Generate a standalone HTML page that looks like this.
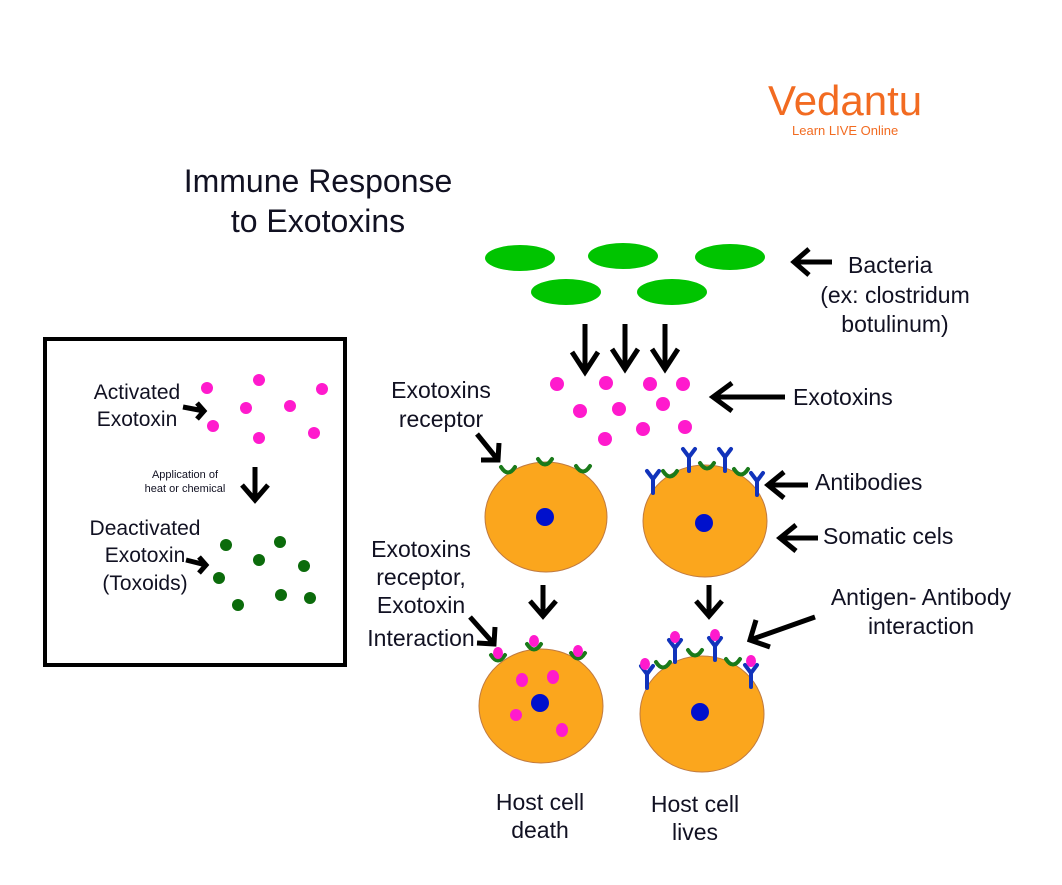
<!DOCTYPE html>
<html><head><meta charset="utf-8"><style>
html,body{margin:0;padding:0;background:#fff;}
svg{display:block;}
text{font-family:"Liberation Sans",sans-serif;fill:#111122;}
</style></head><body>
<svg width="1062" height="885" viewBox="0 0 1062 885" xmlns="http://www.w3.org/2000/svg">
<defs>
<g id="rec"><path d="M-7,-3 Q0,8 7,-3" stroke="#1a7a1a" stroke-width="4" fill="none" stroke-linecap="round"/></g>
<g id="ab"><path d="M0,0 L0,-14 L-6,-22 M0,-14 L6,-22" stroke="#1133bb" stroke-width="4" fill="none" stroke-linecap="round" stroke-linejoin="round"/></g>
</defs>
<!-- logo -->
<text x="768" y="115" font-size="42" style="fill:#f26b21;font-family:'Liberation Sans',sans-serif">Vedantu</text>
<text x="792" y="135" font-size="13" style="fill:#f26b21">Learn LIVE Online</text>
<!-- title -->
<text x="318" y="192" font-size="32" text-anchor="middle">Immune Response</text>
<text x="318" y="232" font-size="32" text-anchor="middle">to Exotoxins</text>
<!-- box -->
<rect x="45" y="339" width="300" height="326" fill="none" stroke="#000" stroke-width="4"/>
<g font-size="21" text-anchor="middle">
<text x="137" y="399">Activated</text><text x="137" y="426">Exotoxin</text>
<text x="145" y="535">Deactivated</text><text x="145" y="562">Exotoxin</text><text x="145" y="590">(Toxoids)</text>
</g>
<text x="185" y="478" font-size="11" text-anchor="middle">Application of</text>
<text x="185" y="492" font-size="11" text-anchor="middle">heat or chemical</text>
<g stroke="#000" stroke-width="5" fill="none">
<path d="M183,407 L204,411 M197,403 L204,411 L197,419"/>
<path d="M186,560 L206,565 M199,557 L206,565 L199,573"/>
<path d="M255,467 L255,500 M242,485 L255,500 L268,485"/>
</g>
<g fill="#ff1acd">
<circle cx="207" cy="388" r="6"/><circle cx="259" cy="380" r="6"/><circle cx="322" cy="389" r="6"/>
<circle cx="246" cy="408" r="6"/><circle cx="290" cy="406" r="6"/><circle cx="213" cy="426" r="6"/>
<circle cx="259" cy="438" r="6"/><circle cx="314" cy="433" r="6"/>
</g>
<g fill="#0b6b0b">
<circle cx="226" cy="545" r="6"/><circle cx="280" cy="542" r="6"/><circle cx="259" cy="560" r="6"/>
<circle cx="304" cy="566" r="6"/><circle cx="219" cy="578" r="6"/><circle cx="281" cy="595" r="6"/>
<circle cx="238" cy="605" r="6"/><circle cx="310" cy="598" r="6"/>
</g>
<!-- bacteria -->
<g fill="#00c400">
<ellipse cx="520" cy="258" rx="35" ry="13"/><ellipse cx="623" cy="256" rx="35" ry="13"/>
<ellipse cx="730" cy="257" rx="35" ry="13"/><ellipse cx="566" cy="292" rx="35" ry="13"/>
<ellipse cx="672" cy="292" rx="35" ry="13"/>
</g>
<!-- arrows -->
<g stroke="#000" stroke-width="5" fill="none">
<path d="M585,324 L585,372 M572,352 L585,372 L598,352"/>
<path d="M625,324 L625,369 M612,349 L625,369 L638,349"/>
<path d="M665,324 L665,369 M652,349 L665,369 L678,349"/>
<path d="M832,262 L794,262 M809,249 L794,262 L809,275"/>
<path d="M785,397 L713,397 M732,383 L713,397 L732,411"/>
<path d="M808,485 L768,485 M784,472 L768,485 L784,498"/>
<path d="M818,538 L780,538 M796,525 L780,538 L796,551"/>
<path d="M815,617 L750,640 M756,620 L750,640 L770,647"/>
<path d="M477,434 L498,460 M499,443 L498,460 L481,460"/>
<path d="M470,617 L494,644 M495,627 L494,644 L477,643"/>
<path d="M543,585 L543,616 M530,601 L543,616 L556,601"/>
<path d="M709,585 L709,616 M696,601 L709,616 L722,601"/>
</g>
<g font-size="23">
<text x="848" y="273">Bacteria</text>
<text x="895" y="303" text-anchor="middle">(ex: clostridum</text>
<text x="895" y="332" text-anchor="middle">botulinum)</text>
<text x="793" y="405">Exotoxins</text>
<text x="815" y="490">Antibodies</text>
<text x="823" y="544">Somatic cels</text>
<text x="921" y="605" text-anchor="middle">Antigen- Antibody</text>
<text x="921" y="634" text-anchor="middle">interaction</text>
<text x="441" y="398" text-anchor="middle">Exotoxins</text>
<text x="441" y="427" text-anchor="middle">receptor</text>
<text x="421" y="557" text-anchor="middle">Exotoxins</text>
<text x="421" y="585" text-anchor="middle">receptor,</text>
<text x="421" y="613" text-anchor="middle">Exotoxin</text>
<text x="421" y="646" text-anchor="middle">Interaction</text>
<text x="540" y="810" text-anchor="middle">Host cell</text>
<text x="540" y="838" text-anchor="middle">death</text>
<text x="695" y="812" text-anchor="middle">Host cell</text>
<text x="695" y="840" text-anchor="middle">lives</text>
</g>
<!-- free exotoxins -->
<g fill="#ff1acd">
<circle cx="557" cy="384" r="7"/><circle cx="606" cy="383" r="7"/><circle cx="650" cy="384" r="7"/>
<circle cx="683" cy="384" r="7"/><circle cx="580" cy="411" r="7"/><circle cx="619" cy="409" r="7"/>
<circle cx="663" cy="404" r="7"/><circle cx="643" cy="429" r="7"/><circle cx="685" cy="427" r="7"/>
<circle cx="605" cy="439" r="7"/>
</g>
<!-- cells -->
<g fill="#fba61d" stroke="#c07a40" stroke-width="1">
<ellipse cx="546" cy="517" rx="61" ry="55"/>
<ellipse cx="705" cy="521" rx="62" ry="56"/>
<ellipse cx="541" cy="706" rx="62" ry="57"/>
<ellipse cx="702" cy="714" rx="62" ry="58"/>
</g>
<g fill="#0010cc">
<circle cx="545" cy="517" r="9"/><circle cx="704" cy="523" r="9"/>
<circle cx="540" cy="703" r="9"/><circle cx="700" cy="712" r="9"/>
</g>
<use href="#rec" x="508" y="470"/><use href="#rec" x="545" y="462"/><use href="#rec" x="583" y="469"/>
<use href="#ab" x="653" y="493"/><use href="#ab" x="689" y="471"/><use href="#ab" x="725" y="471"/><use href="#ab" x="757" y="495"/>
<use href="#rec" x="670" y="474"/><use href="#rec" x="707" y="466"/><use href="#rec" x="741" y="472"/>
<use href="#rec" x="498" y="658"/><use href="#rec" x="534" y="647"/><use href="#rec" x="578" y="656"/>
<g fill="#ff1acd">
<ellipse cx="498" cy="653" rx="5" ry="6"/><ellipse cx="534" cy="641" rx="5" ry="6"/><ellipse cx="578" cy="651" rx="5" ry="6"/>
<ellipse cx="522" cy="680" rx="6" ry="7"/><ellipse cx="553" cy="677" rx="6" ry="7"/>
<ellipse cx="516" cy="715" rx="6" ry="6"/><ellipse cx="562" cy="730" rx="6" ry="7"/>
</g>
<use href="#ab" x="647" y="688"/><use href="#ab" x="675" y="662"/><use href="#ab" x="715" y="660"/><use href="#ab" x="751" y="687"/>
<use href="#rec" x="663" y="665"/><use href="#rec" x="695" y="653"/><use href="#rec" x="733" y="662"/>
<g fill="#ff1acd">
<ellipse cx="645" cy="664" rx="5" ry="6"/><ellipse cx="675" cy="637" rx="5" ry="6"/>
<ellipse cx="715" cy="635" rx="5" ry="6"/><ellipse cx="751" cy="661" rx="5" ry="6"/>
</g>
</svg>
</body></html>
